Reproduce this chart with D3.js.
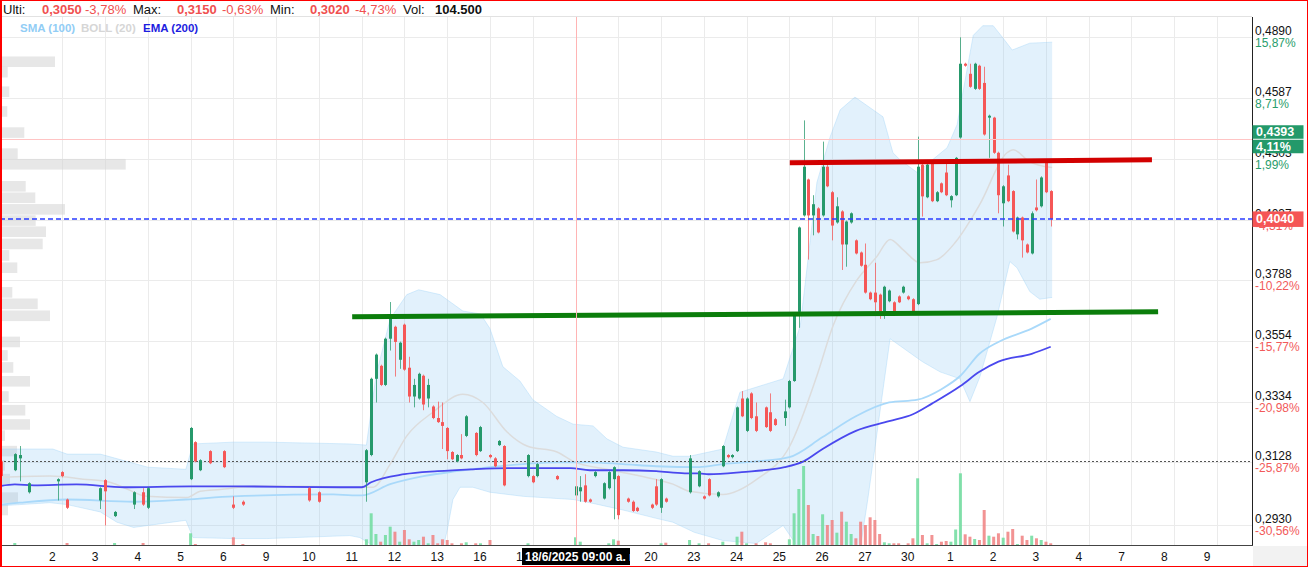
<!DOCTYPE html>
<html><head><meta charset="utf-8">
<script src="https://cdn.jsdelivr.net/npm/d3@7"></script>
<style>body{margin:0;background:#fff;} svg{display:block;font-family:"Liberation Sans",Arial,sans-serif;}</style>
</head><body><svg id="c" width="1308" height="567"></svg>
<script>
// ---------- DATA ----------
const dayLabels = ["2","3","4","5","6","9","10","11","12","13","16","17","18","19","20","23","24","25","26","27","30","1","2","3","4","7","8","9"];
const tickPrices = [0.4890,0.4587,0.4303,0.4037,0.3788,0.3554,0.3334,0.3128,0.2930];
const tickPriceLabels = ["0,4890","0,4587","0,4303","0,4037","0,3788","0,3554","0,3334","0,3128","0,2930"];
const tickPctLabels = ["15,87%","8,71%","1,99%","-4,31%","-10,22%","-15,77%","-20,98%","-25,87%","-30,56%"];
// [hourSlot, open, high, low, close]  (slot 0 = 2/6 09:00, 9 slots per day)
const candles = [
[-13,0.3131,0.3135,0.3079,0.3083],[-10,0.3102,0.3158,0.3099,0.3155],[-9,0.3141,0.3182,0.3066,0.3152],
[-7,0.3031,0.3063,0.3027,0.3060],[-1,0.3066,0.3076,0.3005,0.3073],[0,0.3096,0.3099,0.3079,0.3083],
[1,0.3008,0.3011,0.2978,0.2982],[8,0.3005,0.3047,0.2978,0.3044],[9,0.3070,0.3073,0.2927,0.3034],
[11,0.2956,0.2972,0.2953,0.2969],[15,0.2992,0.3034,0.2978,0.3031],[17,0.3031,0.3044,0.2988,0.2992],
[18,0.2982,0.3047,0.2978,0.3044],[27,0.3073,0.3246,0.3070,0.3243],[28,0.3195,0.3198,0.3128,0.3131],
[29,0.3102,0.3138,0.3099,0.3135],[31,0.3165,0.3168,0.3122,0.3125],[34,0.3165,0.3168,0.3109,0.3112],
[36,0.2992,0.3018,0.2978,0.2982],[38,0.3001,0.3005,0.2988,0.2992],[52,0.3044,0.3047,0.3001,0.3005],
[54,0.3031,0.3034,0.2998,0.3001],[64,0.3063,0.3172,0.3001,0.3168],[65,0.3152,0.3419,0.3148,0.3415],
[66,0.3415,0.3507,0.3331,0.3503],[67,0.3462,0.3466,0.3389,0.3393],[68,0.3393,0.3566,0.3389,0.3562],
[69,0.3562,0.3702,0.3518,0.3637],[70,0.3607,0.3611,0.3423,0.3550],[71,0.3484,0.3551,0.3451,0.3547],
[72,0.3615,0.3619,0.3444,0.3448],[73,0.3455,0.3495,0.3331,0.3352],[74,0.3352,0.3415,0.3314,0.3393],
[75,0.3345,0.3437,0.3341,0.3433],[76,0.3426,0.3430,0.3304,0.3324],[77,0.3345,0.3415,0.3314,0.3393],
[78,0.3317,0.3321,0.3273,0.3277],[79,0.3277,0.3334,0.3260,0.3263],[80,0.3263,0.3331,0.3172,0.3250],
[81,0.3243,0.3246,0.3138,0.3165],[82,0.3162,0.3165,0.3135,0.3138],[83,0.3131,0.3155,0.3128,0.3152],
[84,0.3152,0.3222,0.3138,0.3141],[85,0.3216,0.3287,0.3212,0.3283],[87,0.3226,0.3229,0.3148,0.3152],
[88,0.3165,0.3250,0.3162,0.3246],[90,0.3152,0.3155,0.3141,0.3145],[91,0.3141,0.3145,0.3112,0.3115],
[92,0.3185,0.3202,0.3182,0.3199],[93,0.3182,0.3185,0.3050,0.3053],[98,0.3083,0.3155,0.3079,0.3152],
[99,0.3083,0.3086,0.3060,0.3063],[100,0.3083,0.3125,0.3079,0.3122],[104,0.3083,0.3086,0.3070,0.3073],
[108,0.3021,0.3053,0.3018,0.3050],[109,0.3034,0.3083,0.3001,0.3047],[110,0.3053,0.3089,0.2998,0.3001],
[111,0.3008,0.3011,0.2998,0.3001],[112,0.3083,0.3099,0.3079,0.3096],[114,0.3011,0.3063,0.3008,0.3060],
[115,0.3044,0.3099,0.3040,0.3096],[116,0.3073,0.3115,0.2946,0.3112],[117,0.3083,0.3086,0.2946,0.2959],
[119,0.3011,0.3014,0.2998,0.3001],[120,0.3001,0.3005,0.2969,0.2972],[121,0.2982,0.2985,0.2969,0.2972],
[124,0.2992,0.2995,0.2978,0.2982],[125,0.3050,0.3073,0.2988,0.2992],[126,0.2982,0.3076,0.2966,0.3073],
[127,0.3011,0.3014,0.2998,0.3001],[132,0.3031,0.3152,0.3027,0.3141],[134,0.3050,0.3102,0.3047,0.3099],
[135,0.3018,0.3021,0.3008,0.3011],[136,0.3073,0.3076,0.3018,0.3021],[138,0.3018,0.3034,0.3014,0.3031],
[139,0.3115,0.3185,0.3112,0.3182],[140,0.3152,0.3155,0.3141,0.3145],[141,0.3145,0.3155,0.3141,0.3152],
[142,0.3165,0.3317,0.3162,0.3314],[143,0.3345,0.3371,0.3280,0.3283],[144,0.3233,0.3349,0.3229,0.3345],
[145,0.3363,0.3367,0.3273,0.3277],[146,0.3283,0.3331,0.3229,0.3233],[148,0.3314,0.3317,0.3243,0.3246],
[149,0.3297,0.3363,0.3229,0.3233],[150,0.3273,0.3277,0.3250,0.3253],[152,0.3277,0.3341,0.3250,0.3300],
[153,0.3314,0.3411,0.3310,0.3407],[154,0.3407,0.3660,0.3404,0.3656],[155,0.3664,0.4008,0.3603,0.4004],
[156,0.4055,0.4481,0.4050,0.4268],[157,0.4211,0.4215,0.3871,0.4055],[158,0.4055,0.4142,0.3971,0.4103],
[159,0.4085,0.4090,0.3979,0.3983],[160,0.4055,0.4382,0.4050,0.4268],[161,0.4268,0.4290,0.4177,0.4181],
[162,0.4155,0.4160,0.3950,0.4012],[163,0.4025,0.4133,0.4020,0.4094],[164,0.4072,0.4077,0.3829,0.3933],
[165,0.3933,0.4033,0.3842,0.4029],[166,0.4025,0.4068,0.4020,0.4064],[167,0.3950,0.3954,0.3892,0.3896],
[168,0.3900,0.3904,0.3842,0.3846],[169,0.3850,0.3937,0.3735,0.3739],[170,0.3739,0.3743,0.3709,0.3713],
[171,0.3739,0.3858,0.3664,0.3701],[172,0.3731,0.3735,0.3637,0.3649],[173,0.3667,0.3766,0.3637,0.3762],
[174,0.3705,0.3751,0.3701,0.3747],[175,0.3701,0.3705,0.3660,0.3664],[176,0.3724,0.3728,0.3698,0.3701],
[177,0.3739,0.3766,0.3735,0.3762],[178,0.3724,0.3728,0.3709,0.3713],[179,0.3713,0.3717,0.3660,0.3664],
[180,0.3694,0.4405,0.3690,0.4268],[181,0.4277,0.4281,0.4050,0.4137],[182,0.4133,0.4281,0.4129,0.4277],
[183,0.4286,0.4290,0.4112,0.4116],[184,0.4116,0.4160,0.4112,0.4155],[185,0.4194,0.4198,0.4151,0.4155],
[186,0.4242,0.4286,0.4138,0.4142],[187,0.4120,0.4142,0.4089,0.4138],[188,0.4142,0.4312,0.4138,0.4308],
[189,0.4401,0.4890,0.4396,0.4756],[190,0.4756,0.4761,0.4741,0.4746],[191,0.4706,0.4756,0.4637,0.4642],
[192,0.4632,0.4761,0.4627,0.4756],[193,0.4746,0.4751,0.4627,0.4632],[194,0.4661,0.4741,0.4410,0.4415],
[195,0.4494,0.4508,0.4308,0.4503],[196,0.4494,0.4498,0.4326,0.4331],[197,0.4331,0.4336,0.4064,0.4142],
[198,0.4107,0.4186,0.4008,0.4181],[199,0.4229,0.4277,0.4112,0.4116],[200,0.4160,0.4164,0.3983,0.3987],
[201,0.3975,0.4050,0.3954,0.4046],[202,0.4046,0.4050,0.3879,0.3950],[203,0.3933,0.3937,0.3896,0.3900],
[204,0.3896,0.4072,0.3892,0.4064],[205,0.4089,0.4211,0.4072,0.4077],[206,0.4094,0.4225,0.4089,0.4220],
[207,0.4286,0.4290,0.4151,0.4155],[208,0.4160,0.4164,0.4008,0.4040]
];
// [hourSlot, volume]
const volumes = [
[-10,2000],[1,2000],[11,2000],[17,2000],[27,11700],[28,1000],[36,7700],[38,1000],
[64,5700],[65,31700],[66,11000],[67,3300],[68,10000],[69,18300],[70,13300],[71,3300],[72,15000],[73,5700],
[74,3300],[75,5000],[76,8300],[77,1700],[78,10000],[79,1700],[80,5700],[81,5000],[82,1700],[84,1700],
[85,2700],[87,1700],[88,1700],[90,5000],[98,1700],[108,7700],[109,3300],[115,1700],[116,5700],[117,4300],
[126,1700],[127,2300],[132,5000],[134,1700],[136,1700],[139,3300],[142,8300],[143,13300],[144,1700],
[146,1700],[148,2700],[149,1700],[153,5700],[154,31700],[155,56000],[156,79000],[157,40000],[158,11000],
[159,9000],[160,30700],[161,20000],[162,25000],[163,12300],[164,33300],[165,23300],[166,11000],[167,6700],
[168,23300],[169,20000],[170,27700],[171,25000],[172,11000],[173,2700],[174,1700],[175,1700],[176,1700],
[178,1700],[179,6700],[180,66700],[181,10000],[182,1700],[183,10000],[184,1000],[185,3300],[186,4000],
[187,3300],[188,15500],[189,71700],[190,10700],[191,8300],[192,6000],[193,5000],[194,35000],[195,9300],
[196,8300],[197,11700],[198,7300],[199,13300],[200,16000],[201,1000],[202,9300],[203,5000],[204,9300],
[205,6700],[206,5000],[207,3300],[208,1700]
];
// Bollinger (20) bands, middle line, SMA (100), EMA (200): [hourSlot, price]
const bollUpper = [[-13,0.3172],[-2,0.3172],[1,0.3155],[8,0.3155],[18,0.3112],[26,0.3105],[27.5,0.3189],[36,0.3195],[43,0.3195],[60.5,0.3189],[64,0.3185],[66,0.3426],[69,0.3637],[72.5,0.3731],[75,0.3750],[79.5,0.3731],[84.3,0.3667],[88,0.3656],[90,0.3600],[92.7,0.3459],[96.3,0.3407],[99,0.3341],[104,0.3283],[107.5,0.3256],[111.7,0.3250],[114.6,0.3206],[118,0.3178],[125,0.3162],[128.5,0.3148],[132,0.3148],[139,0.3172],[142.6,0.3367],[151.7,0.3415],[155.3,0.3611],[158.8,0.4198],[161.6,0.4405],[163.7,0.4531],[166.8,0.4592],[172.7,0.4498],[174.8,0.4331],[176.3,0.4299],[179.9,0.4242],[182.6,0.4290],[186.2,0.4354],[188.3,0.4461],[191.7,0.4900],[193.7,0.4950],[195.9,0.4950],[198,0.4885],[199.9,0.4825],[203.6,0.4860],[208.3,0.4865]];
const bollLower = [[-13,0.2988],[-2.6,0.2998],[1,0.2992],[8,0.2969],[11.5,0.2937],[15,0.2921],[26,0.2943],[27.5,0.2890],[36,0.2887],[43,0.2887],[60.5,0.2896],[62.6,0.2890],[65.4,0.2866],[68,0.2820],[75,0.2760],[79.5,0.2820],[81,0.2912],[82.2,0.3008],[83.7,0.3047],[86.4,0.3047],[90,0.3031],[97,0.3018],[107.5,0.3008],[111,0.2998],[118,0.2975],[125,0.2949],[128.5,0.2937],[133,0.2906],[139,0.2881],[146,0.2872],[151.7,0.2927],[155.3,0.2851],[167.2,0.2790],[169.5,0.3008],[174.2,0.3562],[175.7,0.3543],[181,0.3477],[184.7,0.3440],[188.9,0.3415],[191,0.3334],[193.1,0.3422],[196.7,0.3645],[199.4,0.3863],[200.9,0.3838],[203.6,0.3743],[205.7,0.3713],[208.3,0.3720]];
const bollMiddle = [[-13,0.3079],[-2.6,0.3083],[4.4,0.3073],[10,0.3063],[12.8,0.3047],[17.8,0.3018],[26.2,0.3014],[29,0.3034],[33.2,0.3040],[40.1,0.3050],[50,0.3050],[60.5,0.3047],[65.4,0.3047],[69,0.3122],[72.5,0.3216],[78,0.3297],[84.3,0.3360],[88.5,0.3331],[93.6,0.3229],[97.8,0.3182],[104.1,0.3162],[107.5,0.3131],[114.6,0.3105],[121.6,0.3083],[128.5,0.3057],[132,0.3034],[139,0.3024],[146.2,0.3073],[153.1,0.3182],[158.8,0.3426],[162.2,0.3611],[167.2,0.3788],[171.4,0.3883],[174.2,0.3954],[176.9,0.3912],[180.5,0.3858],[184.1,0.3871],[187.9,0.3941],[193.1,0.4103],[198.8,0.4331],[200.1,0.4345],[203.6,0.4290],[208.3,0.4264]];
const sma100 = [[-13,0.2992],[-9,0.2998],[1,0.3008],[15,0.3001],[26,0.3008],[36,0.3018],[57,0.3024],[61,0.3021],[63,0.3021],[69,0.3057],[76,0.3083],[83,0.3099],[90,0.3112],[97,0.3122],[104,0.3128],[111,0.3128],[118,0.3122],[125,0.3115],[134,0.3112],[139,0.3122],[146,0.3131],[153,0.3145],[160,0.3212],[167,0.3283],[174,0.3331],[180,0.3341],[185,0.3378],[189,0.3426],[193,0.3506],[197,0.3550],[204,0.3600],[208,0.3637]];
const ema200 = [[-13,0.3051],[-10,0.3056],[-6,0.3053],[3,0.3056],[13,0.3047],[27,0.3050],[36,0.3050],[59,0.3047],[63,0.3047],[65,0.3063],[72,0.3089],[79,0.3099],[86,0.3105],[94,0.3109],[100,0.3109],[107,0.3109],[111,0.3102],[118,0.3102],[125,0.3099],[131,0.3092],[134,0.3092],[136,0.3089],[143,0.3096],[152,0.3112],[156,0.3131],[160,0.3172],[167,0.3233],[174,0.3266],[179,0.3290],[183,0.3327],[189,0.3389],[193,0.3440],[197,0.3477],[204,0.3506],[208,0.3532]];
// volume profile: [price, volume]
const profile = [[0.4766,55000],[0.4714,7700],[0.4618,9300],[0.4523,7300],[0.4424,24300],[0.4327,17700],[0.4279,125700],[0.4233,1700],[0.4181,25700],[0.4131,35300],[0.4081,65000],[0.4033,35700],[0.3986,46000],[0.3935,42700],[0.3888,9300],[0.3838,17300],[0.3740,12300],[0.3695,37700],[0.3649,50000],[0.3550,20000],[0.3500,7700],[0.3456,13300],[0.3406,30000],[0.3352,8700],[0.3304,25300],[0.3255,30000],[0.3217,5000],[0.3165,17000],[0.3118,5000],[0.3073,10000],[0.3014,18000],[0.2975,8000]];
// drawn trend lines: [[slot, price],[slot, price]]
const resistanceLine = [[153.1,0.4286],[229.3,0.4299]];
const supportLine = [[61,0.3645],[230.6,0.3664]];
const lastPrice = 0.4040, prevClose = 0.3131, crossPrice = 0.4393, crossSlot = 108;
const hiddenDayLabels = [12,13]; // 18 and 19 sit under the crosshair date box

// ---------- CHART ----------
const svg = d3.select("#c");
const L=0, R=1252, T=17, B=545;
const x = d3.scaleLinear().domain([-13.11, 250.36]).range([L, R]);
const y = d3.scaleLog().domain([0.2930, 0.4890]).range([524.5, 37.3]);
const yVol = d3.scaleLinear().domain([0, 100000]).range([B, B-100]);
const xProf = d3.scaleLinear().domain([0, 126000]).range([0, 126]);
const GREEN="#26996b", RED="#f55757";

svg.append("rect").attr("width",1308).attr("height",567).attr("fill","#fff");
svg.append("defs").append("clipPath").attr("id","plot").append("rect").attr("x",L).attr("y",T).attr("width",R-L).attr("height",B-T);
const g = svg.append("g").attr("clip-path","url(#plot)");

// grid
g.selectAll(".hg").data(tickPrices).join("line").attr("x1",L).attr("x2",R)
  .attr("y1",d=>Math.round(y(d))+0.5).attr("y2",d=>Math.round(y(d))+0.5).attr("stroke","#ebebeb");
g.selectAll(".vg").data(dayLabels).join("line")
  .attr("x1",(d,i)=>Math.round(x(i*9))+0.5).attr("x2",(d,i)=>Math.round(x(i*9))+0.5)
  .attr("y1",T).attr("y2",B).attr("stroke","#ebebeb");

// volume profile
g.selectAll(".vp").data(profile).join("rect").attr("x",0).attr("y",d=>y(d[0])-5.3).attr("height",10.6)
  .attr("width",d=>xProf(d[1])).attr("fill","#d4d4d4").attr("opacity",0.55);

// bollinger fill
const bandPts = bollUpper.concat(bollLower.slice().reverse());
g.append("path").attr("d", d3.line().x(d=>x(d[0])).y(d=>y(d[1]))(bandPts)+"Z")
  .attr("fill","rgba(150,205,245,0.28)").attr("stroke","none");
[bollUpper,bollLower].forEach(s=>g.append("path").attr("d",d3.line().x(d=>x(d[0])).y(d=>y(d[1]))(s))
  .attr("fill","none").attr("stroke","rgba(150,205,245,0.35)").attr("stroke-width",1));
const ln = d3.line().x(d=>x(d[0])).y(d=>y(d[1])).curve(d3.curveMonotoneX);
g.append("path").attr("d",ln(bollMiddle)).attr("fill","none").attr("stroke","#dcdcdc").attr("stroke-width",1.5);
g.append("path").attr("d",ln(sma100)).attr("fill","none").attr("stroke","#a9d9fa").attr("stroke-width",1.8);
g.append("path").attr("d",ln(ema200)).attr("fill","none").attr("stroke","#4a48ee").attr("stroke-width",1.8);

// volume bars
const dir = new Map(candles.map(c=>[c[0], c[4]>=c[1]]));
g.selectAll(".vol").data(volumes).join("rect")
  .attr("x",d=>x(d[0])-1.5).attr("width",3).attr("y",d=>yVol(d[1])).attr("height",d=>B-yVol(d[1]))
  .attr("fill",d=>dir.get(d[0])===false?"#f08080":"#6fdc9d").attr("opacity",0.85);

// prev close dotted line
g.append("line").attr("x1",L).attr("x2",R).attr("y1",Math.round(y(prevClose))+0.5).attr("y2",Math.round(y(prevClose))+0.5)
  .attr("stroke","#555").attr("stroke-dasharray","2,2");

// candles
const cg = g.selectAll(".cd").data(candles).join("g");
cg.append("line").attr("x1",d=>Math.round(x(d[0]))+0.5).attr("x2",d=>Math.round(x(d[0]))+0.5)
  .attr("y1",d=>y(d[2])).attr("y2",d=>y(d[3])).attr("stroke",d=>d[4]>=d[1]?GREEN:RED).attr("stroke-width",1).attr("opacity",0.75);
cg.append("rect").attr("x",d=>Math.round(x(d[0]))-1).attr("width",3)
  .attr("y",d=>Math.min(y(d[1]),y(d[4]))).attr("height",d=>Math.max(1.5,Math.abs(y(d[1])-y(d[4]))))
  .attr("fill",d=>d[4]>=d[1]?GREEN:RED);

// trend lines
g.append("line").attr("x1",x(resistanceLine[0][0])).attr("y1",y(resistanceLine[0][1]))
  .attr("x2",x(resistanceLine[1][0])).attr("y2",y(resistanceLine[1][1])).attr("stroke","#d20000").attr("stroke-width",5);
g.append("line").attr("x1",x(supportLine[0][0])).attr("y1",y(supportLine[0][1]))
  .attr("x2",x(supportLine[1][0])).attr("y2",y(supportLine[1][1])).attr("stroke","#0b7d0b").attr("stroke-width",5);

// last price dashed line
g.append("line").attr("x1",L).attr("x2",R).attr("y1",Math.round(y(lastPrice))).attr("y2",Math.round(y(lastPrice)))
  .attr("stroke","#2a3cff").attr("stroke-dasharray","5,3").attr("stroke-width",1.4);

// crosshair
g.append("line").attr("x1",L).attr("x2",R).attr("y1",Math.round(y(crossPrice))+0.5).attr("y2",Math.round(y(crossPrice))+0.5)
  .attr("stroke","#ffc4c4");
g.append("line").attr("x1",Math.round(x(crossSlot))+0.5).attr("x2",Math.round(x(crossSlot))+0.5).attr("y1",T).attr("y2",B)
  .attr("stroke","#ffb4b4");

// frame / axes
svg.append("line").attr("x1",L).attr("x2",R).attr("y1",T-0.5).attr("y2",T-0.5).attr("stroke","#e2e2e2");
svg.append("rect").attr("x",R+1).attr("y",B+1).attr("width",1308-R-1).attr("height",567-B-1).attr("fill","#f2f2f2");
svg.append("line").attr("x1",R+0.5).attr("x2",R+0.5).attr("y1",T).attr("y2",B+1).attr("stroke","#222");
svg.append("line").attr("x1",L).attr("x2",R+1).attr("y1",B+0.5).attr("y2",B+0.5).attr("stroke","#444");

// right axis labels
const ax = svg.append("g").attr("font-size",12);
ax.selectAll(".pl").data(tickPrices).join("text").attr("x",R+3).attr("y",d=>y(d)-2)
  .attr("fill","#111").text((d,i)=>tickPriceLabels[i]);
ax.selectAll(".pp").data(tickPrices).join("text").attr("x",R+3).attr("y",d=>y(d)+10)
  .attr("fill",(d,i)=>tickPctLabels[i][0]==="-"?"#f25a5a":"#2a9d6c").text((d,i)=>tickPctLabels[i]);

// crosshair price box
const yc = y(crossPrice);
svg.append("rect").attr("x",R+0.5).attr("y",yc-14).attr("width",51).attr("height",13.5).attr("fill","#23996a");
svg.append("text").attr("x",R+4).attr("y",yc-3).attr("fill","#fff").attr("font-size",12.5).attr("font-weight","bold").text("0,4393");
svg.append("rect").attr("x",R+0.5).attr("y",yc+0.5).attr("width",51).attr("height",13.5).attr("fill","#23996a");
svg.append("text").attr("x",R+4).attr("y",yc+11.5).attr("fill","#fff").attr("font-size",12.5).attr("font-weight","bold").text("4,11%");
// last price box
const yl = y(lastPrice);
svg.append("rect").attr("x",R+0.5).attr("y",yl-7.5).attr("width",51).attr("height",15.5).attr("fill","#f55555");
svg.append("text").attr("x",R+4).attr("y",yl+4.5).attr("fill","#fff").attr("font-size",12.5).attr("font-weight","bold").text("0,4040");

// x labels
svg.append("g").attr("font-size",12).attr("text-anchor","middle").selectAll("text")
  .data(dayLabels.map((d,i)=>[d,i]).filter(d=>!hiddenDayLabels.includes(d[1]))).join("text")
  .attr("x",d=>x(d[1]*9)-10).attr("y",561).attr("fill","#111").text(d=>d[0]);
// crosshair date box
svg.append("clipPath").attr("id","dbox").append("rect").attr("x",522).attr("y",548).attr("width",108).attr("height",17);
svg.append("rect").attr("x",522).attr("y",548).attr("width",108).attr("height",17).attr("fill","#000");
svg.append("text").attr("clip-path","url(#dbox)").attr("x",525).attr("y",561).attr("fill","#fff").attr("font-size",12)
  .attr("font-weight","bold").text("18/6/2025 09:00 a. m.");

// header
const hd = svg.append("text").attr("x",3).attr("y",14).attr("font-size",13);
hd.append("tspan").attr("fill","#111").text("Ulti:");
hd.append("tspan").attr("x",42).attr("fill","#f05050").attr("font-weight","bold").text("0,3050");
hd.append("tspan").attr("x",85).attr("fill","#f05050").text("-3,78%");
hd.append("tspan").attr("x",133).attr("fill","#111").text("Max:");
hd.append("tspan").attr("x",177).attr("fill","#f05050").attr("font-weight","bold").text("0,3150");
hd.append("tspan").attr("x",222).attr("fill","#f05050").text("-0,63%");
hd.append("tspan").attr("x",270).attr("fill","#111").text("Min:");
hd.append("tspan").attr("x",310).attr("fill","#f05050").attr("font-weight","bold").text("0,3020");
hd.append("tspan").attr("x",355).attr("fill","#f05050").text("-4,73%");
hd.append("tspan").attr("x",403).attr("fill","#111").text("Vol:");
hd.append("tspan").attr("x",435).attr("fill","#111").attr("font-weight","bold").text("104.500");
const lg = svg.append("text").attr("x",20).attr("y",32).attr("font-size",11.5).attr("font-weight","bold");
lg.append("tspan").attr("fill","#92cdf5").text("SMA (100)");
lg.append("tspan").attr("x",81).attr("fill","#d6d6d6").text("BOLL (20)");
lg.append("tspan").attr("x",143).attr("fill","#1d1de0").text("EMA (200)");

// outer red frame
svg.append("rect").attr("x",0.5).attr("y",0.5).attr("width",1307).attr("height",566).attr("fill","none").attr("stroke","#ff0000");
svg.append("line").attr("x1",1).attr("x2",1).attr("y1",0).attr("y2",567).attr("stroke","#ff0000").attr("stroke-width",2);
</script></body></html>
